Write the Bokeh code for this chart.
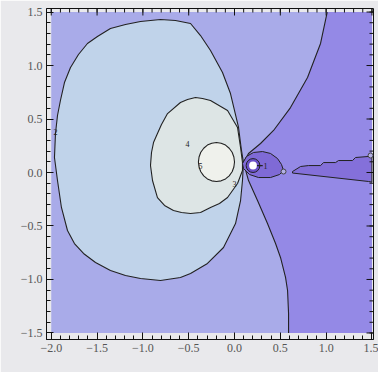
from bokeh.plotting import figure
from bokeh.models import Range1d, FixedTicker, Label, CustomJSTickFormatter
from bokeh.embed import file_html
from bokeh.resources import INLINE
from bokeh.core.properties import value

# ---- data ----
X_LIM = [-2.0, 1.5]
Y_LIM = [-1.5, 1.5]
X_TICKS = [-2.0, -1.5, -1.0, -0.5, 0.0, 0.5, 1.0, 1.5]
Y_TICKS = [-1.5, -1.0, -0.5, 0.0, 0.5, 1.0, 1.5]
X_MINOR = [round(-2.0 + 0.1 * i, 1) for i in range(36)]
Y_MINOR = [round(-1.5 + 0.1 * i, 1) for i in range(31)]

# contour level 2 (large loop)
C2_X = [0.098, 0.076, 0.044, -0.044, -0.131, -0.262, -0.371, -0.480, -0.644, -0.808, -1.026,
        -1.190, -1.354, -1.496, -1.605, -1.703, -1.790, -1.856, -1.900, -1.932, -1.954, -1.965,
        -1.932, -1.889, -1.823, -1.747, -1.648, -1.517, -1.354, -1.190,
        -1.026, -0.808, -0.590, -0.480, -0.295, -0.120, 0.011, 0.066, 0.087, 0.098]
C2_Y = [0.093, 0.206, 0.421, 0.738, 0.935, 1.140, 1.280, 1.393, 1.421, 1.430, 1.411,
        1.383, 1.346, 1.271, 1.206, 1.103, 0.981, 0.841, 0.673, 0.533, 0.364, 0.140,
        -0.075, -0.327, -0.542, -0.664, -0.757, -0.841, -0.916, -0.963,
        -0.991, -1.009, -0.981, -0.944, -0.850, -0.701, -0.477, -0.262, -0.075, 0.093]

# contour level 4
C4_X = [0.087, 0.066, 0.033, -0.076, -0.262, -0.349, -0.426, -0.513, -0.590, -0.731, -0.797,
        -0.841, -0.884, -0.906, -0.917, -0.895, -0.841, -0.764, -0.666, -0.579, -0.480,
        -0.371, -0.262, -0.164, -0.076, 0.033, 0.087, 0.087]
C4_Y = [0.093, 0.234, 0.421, 0.579, 0.673, 0.692, 0.701, 0.682, 0.654, 0.551, 0.449,
        0.364, 0.280, 0.187, 0.065, -0.075, -0.234, -0.308, -0.355, -0.374, -0.383,
        -0.374, -0.327, -0.290, -0.234, -0.103, 0.019, 0.093]

# contour level 5
C5_X = [0.000, -0.007, -0.026, -0.058, -0.098, -0.146, -0.197, -0.248, -0.296, -0.336, -0.368, -0.387,
        -0.394, -0.387, -0.368, -0.336, -0.296, -0.248, -0.197, -0.146, -0.098, -0.058, -0.026, -0.007, 0.000]
C5_Y = [0.098, 0.145, 0.189, 0.227, 0.256, 0.274, 0.280, 0.274, 0.256, 0.227, 0.189, 0.145,
        0.098, 0.051, 0.007, -0.031, -0.060, -0.078, -0.084, -0.078, -0.060, -0.031, 0.007, 0.051, 0.098]

# right-hand contour, upper and lower branch
RC_TOP_X = [1.012, 0.939, 0.797, 0.611, 0.426, 0.284, 0.153, 0.098]
RC_TOP_Y = [1.500, 1.206, 0.888, 0.607, 0.393, 0.271, 0.178, 0.093]
RC_BOT_X = [0.098, 0.153, 0.251, 0.360, 0.448, 0.502, 0.557, 0.579, 0.590, 0.590]
RC_BOT_Y = [0.093, -0.075, -0.262, -0.477, -0.664, -0.794, -0.981, -1.103, -1.318, -1.500]

# small tear-shaped region around the pole
TD_X = [0.087, 0.131, 0.207, 0.306, 0.393, 0.469, 0.513, 0.535, 0.491, 0.393, 0.262, 0.164, 0.098]
TD_Y = [0.084, 0.150, 0.187, 0.196, 0.178, 0.131, 0.075, 0.019, -0.019, -0.047, -0.047, -0.019, 0.037]

# wedge on the right
WG_X = [0.633, 0.721, 0.808, 0.939, 0.972, 1.103, 1.135, 1.288, 1.321, 1.463, 1.500, 1.500, 1.463, 0.633]
WG_Y = [0.009, 0.056, 0.065, 0.065, 0.093, 0.093, 0.112, 0.112, 0.140, 0.150, 0.159, -0.090, -0.084, -0.005]

POLE_X = [0.202]
POLE_Y = [0.065]

LBL_X = [-1.954, -0.513, -0.371, 0.338, 0.0]
LBL_Y = [0.383, 0.271, 0.065, 0.065, -0.112]
LBL_T = ["2", "4", "5", "1", "3"]

ZERO_X = [0.535, 1.485]
ZERO_Y = [0.009, 0.159]

# ---- colours ----
BG = "#e9e9ec"
C_BASE = "#a9abe9"
C_RIGHT = "#9489e6"
C_L2 = "#c0d3ea"
C_L4 = "#dde5e5"
C_L5 = "#eff1ec"
C_TD = "#7f6ad6"
C_WG = "#8470da"
C_POLE = "#6a50c6"
LINE = "#222222"
FRAME = "#111111"

XR = (-2.052, 1.517)
YR = (-1.561, 1.533)
p = figure(width=378, height=372,
           x_range=Range1d(*XR), y_range=Range1d(*YR),
           output_backend="svg", toolbar_location=None,
           min_border_left=46, min_border_right=5, min_border_top=8, min_border_bottom=33)
p.background_fill_color = BG
p.border_fill_color = BG
p.outline_line_color = FRAME
p.grid.visible = False

fmt = CustomJSTickFormatter(code="return (tick < 0 ? '\u2212' : '') + Math.abs(tick).toFixed(1);")

for ax, ticks, minor in ((p.xaxis[0], X_TICKS, X_MINOR), (p.yaxis[0], Y_TICKS, Y_MINOR)):
    ax.ticker = FixedTicker(ticks=ticks, minor_ticks=minor)
    ax.major_tick_in = 7
    ax.major_tick_out = 0
    ax.minor_tick_in = 4
    ax.minor_tick_out = 0
    ax.major_tick_line_color = FRAME
    ax.minor_tick_line_color = FRAME
    ax.axis_line_color = FRAME
    ax.formatter = fmt
    ax.major_label_text_font = "Liberation Serif"
    ax.major_label_text_font_size = "12px"
    ax.major_label_text_color = "#555555"
    ax.major_label_standoff = 4

# base band
p.quad(left=[X_LIM[0]], right=[X_LIM[1]], bottom=[Y_LIM[0]], top=[Y_LIM[1]],
       fill_color=C_BASE, line_color=None)

# right region
rx = RC_TOP_X + RC_BOT_X[1:] + [X_LIM[1], X_LIM[1]]
ry = RC_TOP_Y + RC_BOT_Y[1:] + [Y_LIM[0], Y_LIM[1]]
p.patch(rx, ry, fill_color=C_RIGHT, line_color=None)
p.line(RC_TOP_X, RC_TOP_Y, line_color=LINE, line_width=1.1)
p.line(RC_BOT_X, RC_BOT_Y, line_color=LINE, line_width=1.1)

p.patch(C2_X, C2_Y, fill_color=C_L2, line_color=LINE, line_width=1.1)
p.patch(C4_X, C4_Y, fill_color=C_L4, line_color=LINE, line_width=1.1)
p.patch(C5_X, C5_Y, fill_color=C_L5, line_color=LINE, line_width=1.1)
p.patch(TD_X, TD_Y, fill_color=C_TD, line_color=LINE, line_width=1.0)
p.patch(WG_X, WG_Y, fill_color=C_WG, line_color=LINE, line_width=1.0)

p.ellipse(POLE_X, POLE_Y, width=0.15, height=0.13, fill_color=C_POLE, line_color=LINE, line_width=1.0)
p.line([POLE_X[0], LBL_X[3] - 0.03], [POLE_Y[0], LBL_Y[3]], line_color=LINE, line_width=1.2)
p.ellipse(POLE_X, POLE_Y, width=0.085, height=0.075, fill_color="white", line_color=None)

p.scatter(ZERO_X, ZERO_Y, marker="circle", size=5, fill_color="#b3b0e4", line_color="#444444", line_width=1)

p.text(LBL_X, LBL_Y, text=LBL_T, text_font=value("Liberation Serif"), text_font_size="8px",
       text_color="#222222", text_align="center", text_baseline="middle")

# inward ticks on the top and right frame edges
px_x = (XR[1] - XR[0]) / 327.0
px_y = (YR[1] - YR[0]) / 331.0
p.segment(x0=X_TICKS, y0=[YR[1]] * len(X_TICKS), x1=X_TICKS, y1=[YR[1] - 7 * px_y] * len(X_TICKS),
          line_color=FRAME, line_width=1)
p.segment(x0=X_MINOR, y0=[YR[1]] * len(X_MINOR), x1=X_MINOR, y1=[YR[1] - 4 * px_y] * len(X_MINOR),
          line_color=FRAME, line_width=1)
p.segment(x0=[XR[1]] * len(Y_TICKS), y0=Y_TICKS, x1=[XR[1] - 7 * px_x] * len(Y_TICKS), y1=Y_TICKS,
          line_color=FRAME, line_width=1)
p.segment(x0=[XR[1]] * len(Y_MINOR), y0=Y_MINOR, x1=[XR[1] - 4 * px_x] * len(Y_MINOR), y1=Y_MINOR,
          line_color=FRAME, line_width=1)

p.add_layout(Label(x=-2.39, y=0.065, text="Im u", angle=1.5708, text_font="Liberation Serif",
                   text_font_size="11px", text_color="#444444", text_align="center",
                   text_baseline="middle"))
p.add_layout(Label(x=-0.317, y=-1.815, text="Re u", text_font="Liberation Serif",
                   text_font_size="11px", text_color="#444444", text_align="center",
                   text_baseline="middle"))

open("out.html", "w").write(file_html(p, INLINE))
